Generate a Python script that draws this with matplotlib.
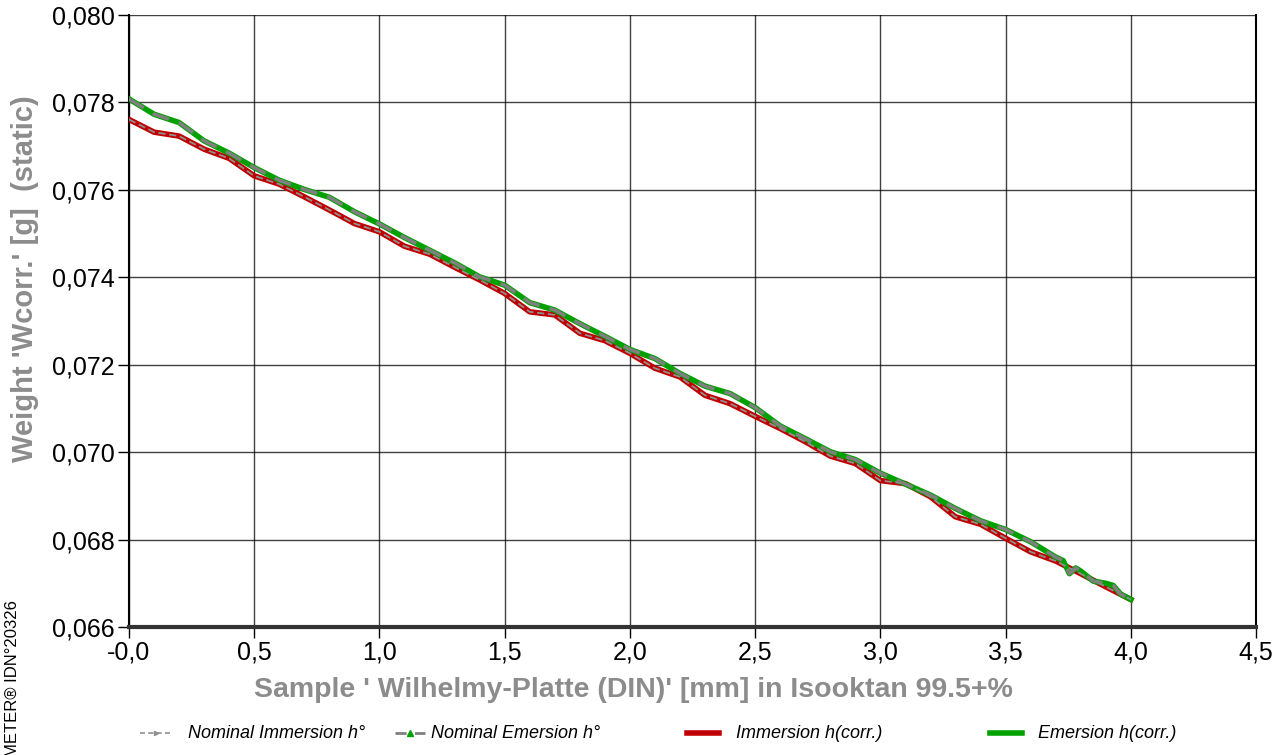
import matplotlib
matplotlib.use("Agg")
from matplotlib import pyplot as plt
from matplotlib.lines import Line2D

plt.rcParams['font.family'] = ['Liberation Sans', 'DejaVu Sans']

# immersion curve, sampled every 0.1 mm
x_imm = [0.0, 0.1, 0.2, 0.3, 0.4, 0.5, 0.6, 0.7, 0.8, 0.9, 1.0,
         1.1, 1.2, 1.3, 1.4, 1.5, 1.6, 1.7, 1.8, 1.9, 2.0,
         2.1, 2.2, 2.3, 2.4, 2.5, 2.6, 2.7, 2.8, 2.9, 3.0,
         3.1, 3.2, 3.3, 3.4, 3.5, 3.6, 3.7, 3.8, 3.9, 4.0]
w_imm = [0.07761, 0.07732, 0.07723, 0.07693, 0.07672, 0.07632, 0.07613, 0.07584, 0.07554, 0.07523, 0.07504,
         0.07471, 0.07453, 0.07423, 0.07394, 0.07363, 0.07321, 0.07314, 0.07272, 0.07255, 0.07226,
         0.07192, 0.07172, 0.07130, 0.07111, 0.07082, 0.07054, 0.07024, 0.06991, 0.06974, 0.06935,
         0.06928, 0.06898, 0.06852, 0.06835, 0.06803, 0.06772, 0.06751, 0.06722, 0.06692, 0.06663]

# emersion curve (a few extra points near the end)
x_emr = [0.0, 0.1, 0.2, 0.3, 0.4, 0.5, 0.6, 0.7, 0.8, 0.9, 1.0,
         1.1, 1.2, 1.3, 1.4, 1.5, 1.6, 1.7, 1.8, 1.9, 2.0,
         2.1, 2.2, 2.3, 2.4, 2.5, 2.6, 2.7, 2.8, 2.9, 3.0,
         3.1, 3.2, 3.3, 3.4, 3.5, 3.6, 3.7, 3.73, 3.755, 3.78, 3.8, 3.85, 3.9, 3.93, 3.96, 4.0]
w_emr = [0.07808, 0.07773, 0.07754, 0.07712, 0.07684, 0.07651, 0.07622, 0.07601, 0.07583, 0.0755, 0.07522,
         0.07491, 0.07462, 0.07433, 0.07401, 0.07382, 0.07342, 0.07325, 0.07294, 0.07265, 0.07235,
         0.07214, 0.0718, 0.07151, 0.07134, 0.07102, 0.0706, 0.07031, 0.07001, 0.06983, 0.06952,
         0.06927, 0.06902, 0.06871, 0.06843, 0.06823, 0.06795, 0.0676, 0.06752, 0.06722, 0.06735,
         0.06728, 0.06705, 0.06700, 0.06695, 0.06675, 0.06663]

xticks = [0.0, 0.5, 1.0, 1.5, 2.0, 2.5, 3.0, 3.5, 4.0, 4.5]
xticklabels = ["-0,0", "0,5", "1,0", "1,5", "2,0", "2,5", "3,0", "3,5", "4,0", "4,5"]
yticks = [0.066, 0.068, 0.070, 0.072, 0.074, 0.076, 0.078, 0.080]
yticklabels = ["0,066", "0,068", "0,070", "0,072", "0,074", "0,076", "0,078", "0,080"]

legend_labels = ["Nominal Immersion h°", "Nominal Emersion h°",
                 "Immersion h(corr.)", "Emersion h(corr.)"]

W, H = 1280, 755
fig = plt.figure(figsize=(12.8, 7.55), dpi=100)
ax = fig.add_axes([129 / W, 1 - 627 / H, (1256 - 129) / W, (627 - 15) / H])

red = '#c00000'
green = '#00a000'
ax.plot(x_imm, w_imm, color=red, lw=4, zorder=3)
ax.plot(x_emr, w_emr, color=green, lw=4, zorder=3)
ax.plot(x_imm, w_imm, color='#909090', lw=1.3, ls=(0, (4, 2)), zorder=4)
ax.plot(x_emr, w_emr, color='#808080', lw=2.5, ls=(0, (5, 3)), zorder=4)

ax.set_xlim(0, 4.5)
ax.set_ylim(0.066, 0.080)
ax.set_xticks(xticks)
ax.set_xticklabels(xticklabels)
ax.set_yticks(yticks)
ax.set_yticklabels(yticklabels)
ax.tick_params(axis='both', labelsize=18, length=8, width=1, direction='out', pad=2)
ax.grid(True, color='black', lw=1, alpha=0.75, zorder=1)
ax.set_axisbelow(True)

ax.spines['bottom'].set_linewidth(3)
ax.spines['bottom'].set_color('#333333')
for s in ['left', 'right']:
    ax.spines[s].set_linewidth(1.5)
ax.spines['top'].set_visible(False)

ax.set_xlabel("Sample ' Wilhelmy-Platte (DIN)' [mm] in Isooktan 99.5+%",
              fontsize=20.5, fontweight='bold', color='#8c8c8c')
ax.xaxis.set_label_coords(0.448, -0.103)
ax.xaxis.label.set_va('center')
ax.set_ylabel("Weight 'Wcorr.' [g]  (static)",
              fontsize=21, fontweight='bold', color='#8c8c8c')
ax.yaxis.set_label_coords(-0.092, 0.57)
ax.yaxis.label.set_va('center')

fig.text(12 / W, 1 - 600 / H, "METER® IDN°20326", rotation=90,
         rotation_mode='anchor', ha='right', va='center', fontsize=12)

# legend row, laid out by hand like the original
ly = 1 - 733 / H
handles = [
    dict(x0=140, x1=172, color='#909090', lw=1.2, ls=(0, (3, 2)), marker='>', ms=3, mfc='#909090'),
    dict(x0=395, x1=425, color='#808080', lw=2, ls=(0, (4, 3)), marker='^', ms=4, mfc=green),
    dict(x0=687, x1=719, color=red, lw=4, ls='-', marker=None, ms=0, mfc=red),
    dict(x0=990, x1=1022, color=green, lw=4, ls='-', marker=None, ms=0, mfc=green),
]
text_x = [188, 431, 736, 1038]
for h, label, tx in zip(handles, legend_labels, text_x):
    fig.add_artist(Line2D([h['x0'] / W, h['x1'] / W], [ly, ly], transform=fig.transFigure,
                          color=h['color'], lw=h['lw'], ls=h['ls']))
    if h['marker']:
        fig.add_artist(Line2D([(h['x0'] + h['x1']) / 2 / W], [ly], transform=fig.transFigure,
                              marker=h['marker'], ms=h['ms'], color=h['mfc'], ls='none'))
    fig.text(tx / W, ly, label, ha='left', va='center', fontsize=13, style='italic')

fig.savefig('out.png', dpi=100)
